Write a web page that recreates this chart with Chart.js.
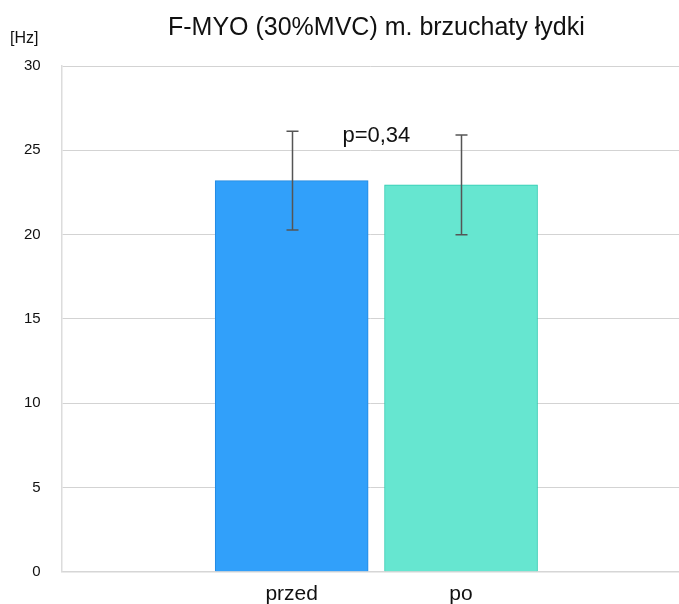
<!DOCTYPE html>
<html>
<head>
<meta charset="utf-8">
<script src="https://cdn.jsdelivr.net/npm/chart.js@4"></script>
<style>
  html, body { margin: 0; padding: 0; background: #fff; }
  .chart-container { width: 679px; height: 604px; }
</style>
</head>
<body>
<div class="chart-container"><canvas id="c"></canvas></div>
<script>
const categories = ['przed', 'po'];
const xPositions = [1, 2];
const means = [23.2, 22.95];
const errors = [2.93, 2.96];
const yTicks = [0, 5, 10, 15, 20, 25, 30];
const titleText = 'F-MYO (30%MVC) m. brzuchaty łydki';
const unitText = '[Hz]';
const pText = 'p=0,34';
const pLevel = 25.85;

const FONT = '"Liberation Sans", Arial, sans-serif';

// error bars + annotations
const extras = {
    id: 'extras',
    afterDatasetsDraw(chart) {
        const ctx = chart.ctx;
        const x = chart.scales.x, y = chart.scales.y;
        ctx.save();
        ctx.strokeStyle = '#555555';
        ctx.lineWidth = 1.5;
        means.forEach((m, i) => {
            const px = Math.round(x.getPixelForValue(xPositions[i])) + 0.5;
            const top = y.getPixelForValue(m + errors[i]);
            const bot = y.getPixelForValue(m - errors[i]);
            ctx.beginPath();
            ctx.moveTo(px, top); ctx.lineTo(px, bot);
            ctx.moveTo(px - 6, top); ctx.lineTo(px + 6, top);
            ctx.moveTo(px - 6, bot); ctx.lineTo(px + 6, bot);
            ctx.stroke();
        });
        const mid = (x.getPixelForValue(xPositions[0]) + x.getPixelForValue(xPositions[1])) / 2;
        ctx.fillStyle = '#111';
        ctx.textAlign = 'center';
        ctx.textBaseline = 'middle';
        ctx.font = '22px ' + FONT;
        ctx.fillText(pText, mid, y.getPixelForValue(pLevel));
        ctx.font = '25px ' + FONT;
        ctx.fillText(titleText, mid, 28);
        ctx.font = '16px ' + FONT;
        ctx.textAlign = 'left';
        ctx.fillText(unitText, 10, 39);
        ctx.restore();
    }
};

new Chart(document.getElementById('c'), {
    type: 'bar',
    data: {
        datasets: [{
            data: xPositions.map((v, i) => ({ x: v, y: means[i] })),
            backgroundColor: ['#31a0fa', '#66e6d0'],
            borderColor: ['#2389e0', '#2ccab0'],
            borderWidth: 1,
            barThickness: 153
        }]
    },
    options: {
        responsive: true,
        maintainAspectRatio: false,
        animation: false,
        layout: { padding: { top: 66, left: 3, right: 0, bottom: -13 } },
        plugins: {
            legend: { display: false },
            tooltip: { enabled: false }
        },
        scales: {
            x: {
                type: 'linear',
                offset: false,
                min: -0.358,
                max: 3.287,
                afterBuildTicks: s => { s.ticks = xPositions.map(v => ({ value: v })); },
                ticks: {
                    autoSkip: false,
                    maxRotation: 0,
                    padding: 10,
                    color: '#111',
                    font: { family: FONT, size: 21 },
                    callback: v => categories[xPositions.indexOf(v)]
                },
                grid: { display: false, drawTicks: false, offset: false },
                border: { display: true, color: '#d6d6d6', width: 1.5 }
            },
            y: {
                min: 0,
                max: 30,
                afterBuildTicks: s => { s.ticks = yTicks.map(v => ({ value: v })); },
                ticks: {
                    padding: 21,
                    color: '#111',
                    font: { family: FONT, size: 15 }
                },
                grid: { color: '#d3d3d3', lineWidth: 1, drawTicks: false },
                border: { display: true, color: '#dcdcdc', width: 1.5 }
            }
        }
    },
    plugins: [extras]
});
</script>
</body>
</html>
